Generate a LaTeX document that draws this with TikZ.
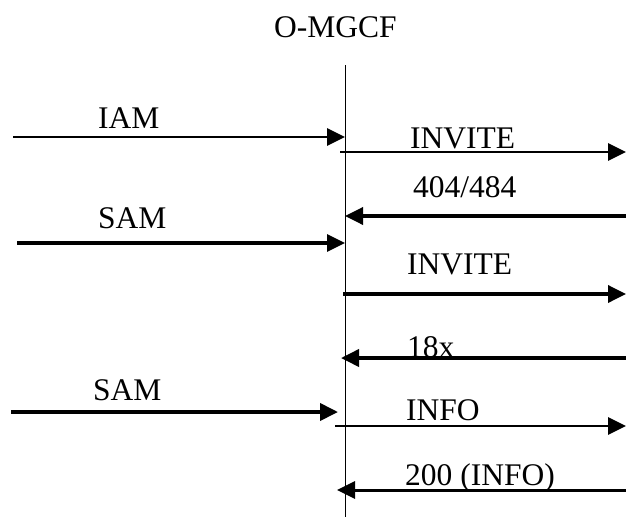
\documentclass[tikz,border=0pt]{standalone}
\usepackage{fontspec}
\setmainfont{Liberation Serif}
\usetikzlibrary{arrows.meta}
\begin{document}
\begin{tikzpicture}[x=1pt,y=-1pt,
  lbl/.style={anchor=base west,inner sep=0pt,font=\fontsize{31.5}{31.5}\selectfont},
  msg/.style={line width=#1,-{Triangle[length=18pt,width=17pt]}},
  msg/.default=3pt]
\useasboundingbox (0,0) rectangle (626,517);
\node[lbl] (title) at (274,37) {O-MGCF};
\coordinate (ltop) at (345.5,65);
\coordinate (lbot) at (345.5,517);
\draw[line width=1.6pt] (ltop) -- (lbot);
% IAM
\coordinate (a1) at (13,137); \coordinate (b1) at (345,137);
\draw[msg=2.9pt] (a1) -- (b1);
\node[lbl] (l1) at (98,128) {IAM};
% INVITE 1
\coordinate (a2) at (340,152); \coordinate (b2) at (626,152);
\draw[msg=2.9pt] (a2) -- (b2);
\node[lbl] (l2) at (410,148) {INVITE};
% 404/484
\coordinate (a3) at (626,216); \coordinate (b3) at (345,216);
\draw[msg=3.5pt] (a3) -- (b3);
\node[lbl] (l3) at (413,197) {404/484};
% SAM 1
\coordinate (a4) at (17,243); \coordinate (b4) at (345,243);
\draw[msg=3.2pt] (a4) -- (b4);
\node[lbl] (l4) at (98,228) {SAM};
% INVITE 2
\coordinate (a5) at (343,294); \coordinate (b5) at (626,294);
\draw[msg=3.5pt] (a5) -- (b5);
\node[lbl] (l5) at (407,274) {INVITE};
% 18x
\coordinate (a6) at (626,358); \coordinate (b6) at (341,358);
\draw[msg=3.7pt] (a6) -- (b6);
\node[lbl] (l6) at (407,357) {18x};
% SAM 2
\coordinate (a7) at (11,412); \coordinate (b7) at (338,412);
\draw[msg=3.8pt] (a7) -- (b7);
\node[lbl] (l7) at (93,400) {SAM};
% INFO
\coordinate (a8) at (335,426); \coordinate (b8) at (626,426);
\draw[msg=2.9pt] (a8) -- (b8);
\node[lbl] (l8) at (406,420) {INFO};
% 200 (INFO)
\coordinate (a9) at (626,490); \coordinate (b9) at (337,490);
\draw[msg=3pt] (a9) -- (b9);
\node[lbl] (l9) at (405,485) {200 (INFO)};
\end{tikzpicture}
\end{document}
